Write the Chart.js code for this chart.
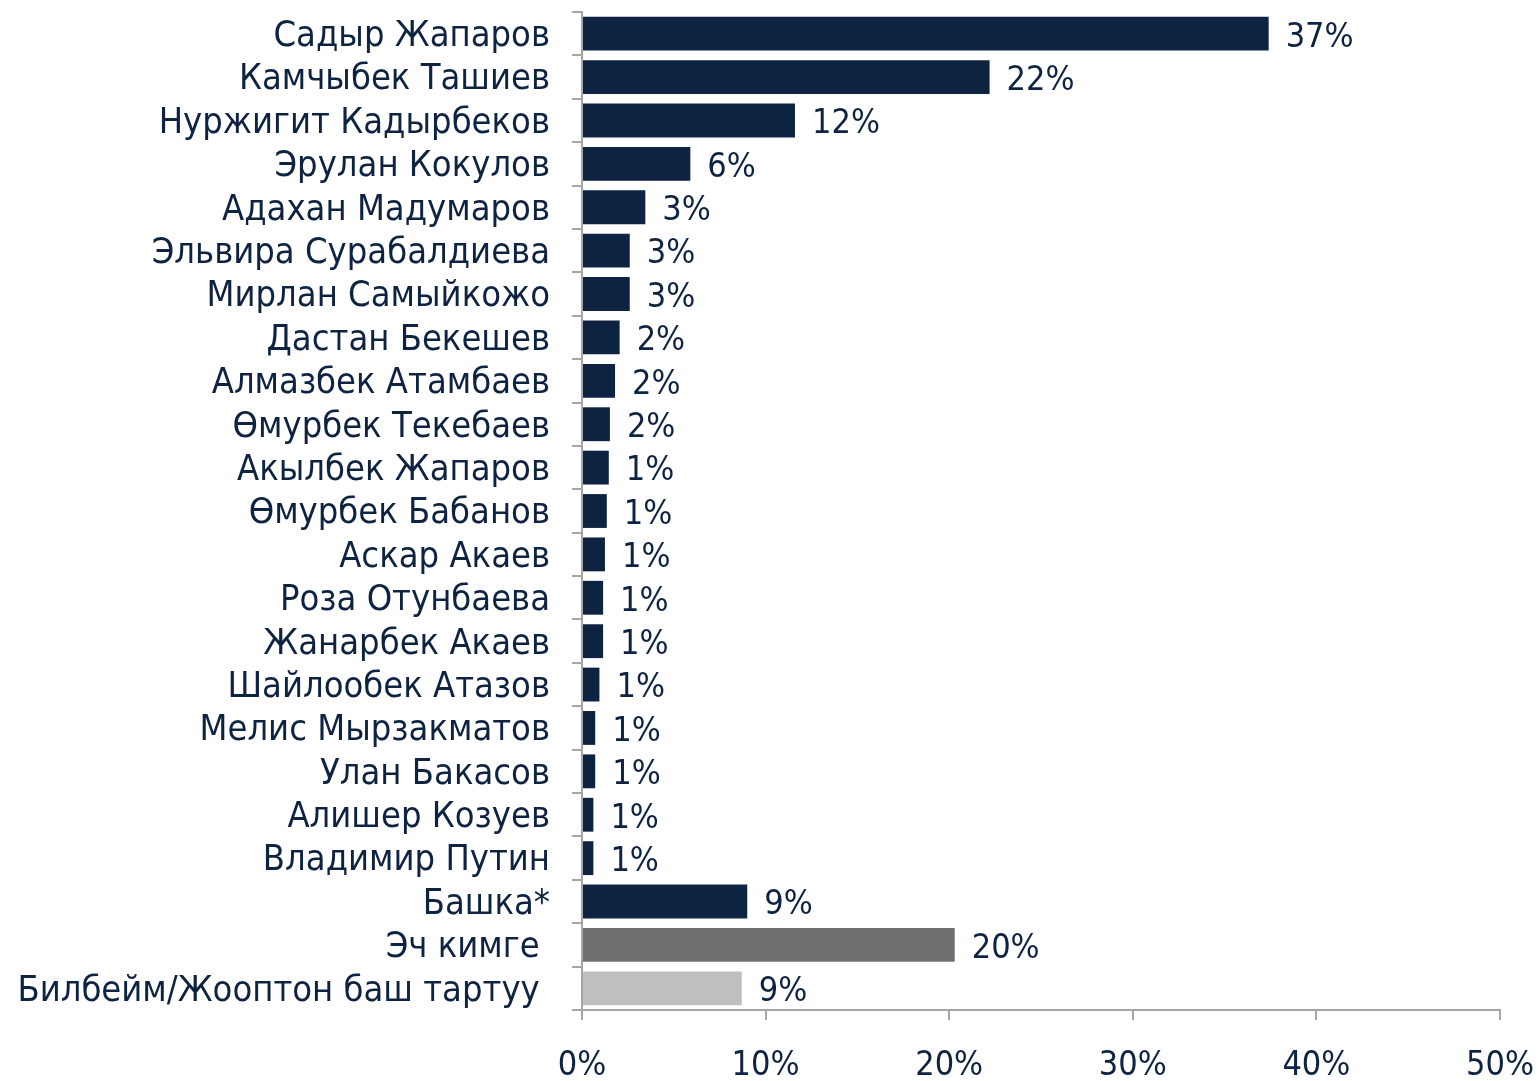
<!DOCTYPE html>
<html>
<head>
<meta charset="utf-8">
<script src="https://cdn.jsdelivr.net/npm/chart.js@4"></script>
<style>
  html, body { margin: 0; padding: 0; background: #fff; }
  #wrap { width: 1538px; height: 1081px; position: relative; }
</style>
</head>
<body>
<div id="wrap"><canvas id="chart"></canvas></div>
<script>
// Kandidaten und Anteile (in %)
const kandidaten = [
  'Садыр Жапаров', 'Камчыбек Ташиев', 'Нуржигит Кадырбеков', 'Эрулан Кокулов',
  'Адахан Мадумаров', 'Эльвира Сурабалдиева', 'Мирлан Самыйкожо', 'Дастан Бекешев',
  'Алмазбек Атамбаев', 'Өмурбек Текебаев', 'Акылбек Жапаров', 'Өмурбек Бабанов',
  'Аскар Акаев', 'Роза Отунбаева', 'Жанарбек Акаев', 'Шайлообек Атазов',
  'Мелис Мырзакматов', 'Улан Бакасов', 'Алишер Козуев', 'Владимир Путин',
  'Башка*', 'Эч кимге ', 'Билбейм/Жооптон баш тартуу '
];
const anteile = [
  37.4, 22.2, 11.6, 5.9,
  3.45, 2.6, 2.6, 2.05,
  1.8, 1.52, 1.46, 1.35,
  1.25, 1.15, 1.15, 0.95,
  0.72, 0.72, 0.62, 0.62,
  9.0, 20.3, 8.7
];
const xTicks = [0, 10, 20, 30, 40, 50];

const navy = '#0e2341';
const grau = '#6d6e70';
const hellgrau = '#bfbfbf';
const linie = '#a6a6a6';
const schrift = 'DejaVu Sans Condensed';

//Werte rechts neben den Balken schreiben
const wertePlugin = {
  id: 'werte',
  afterDatasetsDraw(chart) {
    const ctx = chart.ctx;
    const meta = chart.getDatasetMeta(0);
    ctx.save();
    ctx.fillStyle = navy;
    ctx.font = '34px "' + schrift + '"';
    ctx.textAlign = 'left';
    ctx.textBaseline = 'middle';
    meta.data.forEach((bar, i) => {
      ctx.fillText(Math.round(anteile[i]) + '%', bar.x + 17, bar.y + 4);
    });
    ctx.restore();
  }
};

new Chart(document.getElementById('chart'), {
  type: 'bar',
  data: {
    labels: kandidaten,
    datasets: [{
      data: anteile,
      backgroundColor: (c) => c.dataIndex === 21 ? grau : (c.dataIndex === 22 ? hellgrau : navy),
      barPercentage: 0.78,
      categoryPercentage: 1.0,
    }]
  },
  plugins: [wertePlugin],
  options: {
    indexAxis: 'y',
    responsive: true,
    maintainAspectRatio: false,
    animation: false,
    layout: { padding: { top: 12, right: 38, left: 0, bottom: 0 } },
    plugins: {
      legend: { display: false },
      tooltip: { enabled: false },
    },
    scales: {
      y: {
        afterFit(scale) {
          scale.width = 582;
          scale.paddingTop = 0;
          scale.paddingBottom = 0;
        },
        ticks: {
          color: navy,
          font: { family: schrift, size: 36 },
          padding: 22,
          labelOffset: 3,
          autoSkip: false,
        },
        grid: {
          drawOnChartArea: false,
          color: linie,
          lineWidth: 2,
          tickLength: 10,
        },
        border: { color: linie, width: 2 },
      },
      x: {
        min: 0,
        max: 50,
        afterFit(scale) {
          scale.height = 71;
          scale.paddingLeft = 0;
          scale.paddingRight = 0;
        },
        afterBuildTicks(scale) { scale.ticks = xTicks.map(v => ({ value: v })); },
        ticks: {
          color: navy,
          font: { family: schrift, size: 34 },
          padding: 26,
          callback: (v) => v + '%',
        },
        grid: {
          drawOnChartArea: false,
          color: linie,
          lineWidth: 2,
          tickLength: 10,
        },
        border: { color: linie, width: 2 },
      },
    },
  },
});
</script>
</body>
</html>
